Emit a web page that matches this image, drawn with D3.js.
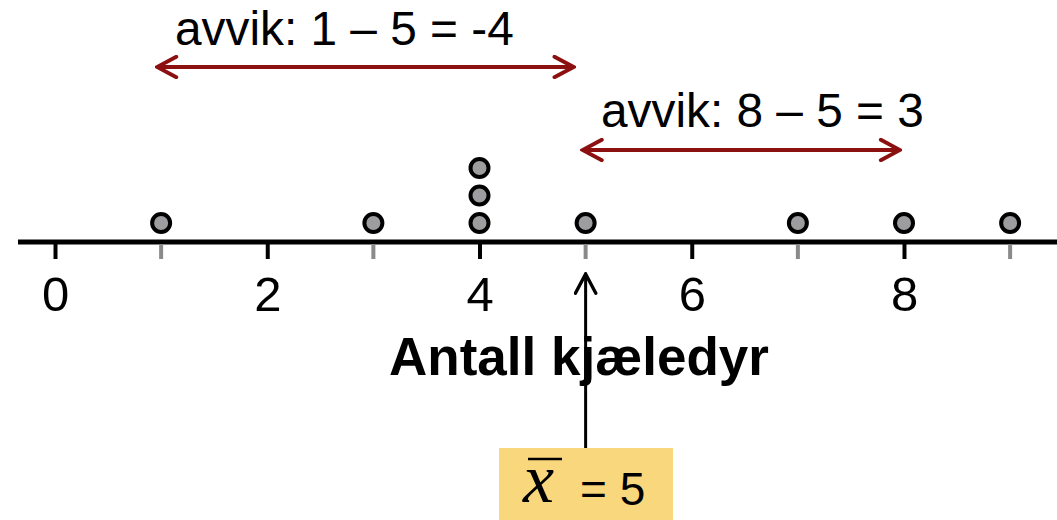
<!DOCTYPE html>
<html>
<head>
<meta charset="utf-8">
<script src="https://cdn.jsdelivr.net/npm/d3@7/dist/d3.min.js"></script>
<style>
body { margin: 0; background: #fff; }
text { font-family: Arial, "Liberation Sans", sans-serif; }
</style>
</head>
<body>
<svg id="chart" width="1057" height="520"></svg>
<script>
// antall kjæledyr per elev
var values = [1, 3, 4, 4, 4, 5, 7, 8, 9];
var tickLabels = [0, 2, 4, 6, 8];
var oddTicks = [1, 3, 5, 7, 9];
var axisTitle = "Antall kjæledyr";
var deviations = [
  {from: 1, to: 5, text: "avvik: 1 – 5 = -4"},
  {from: 5, to: 8, text: "avvik: 8 – 5 = 3"}
];

var mean = d3.mean(values);

var svg = d3.select("#chart");
var axisY = 242;
var red = "#8c1010";

var x = d3.scaleLinear().domain([0, 8]).range([55, 904]);

// main axis line
svg.append("line")
  .attr("x1", 18).attr("x2", 1057)
  .attr("y1", axisY).attr("y2", axisY)
  .attr("stroke", "#000").attr("stroke-width", 5);

// gray ticks at odd values
svg.selectAll(".oddtick").data(oddTicks).enter().append("line")
  .attr("x1", d => x(d)).attr("x2", d => x(d))
  .attr("y1", axisY + 2).attr("y2", axisY + 17)
  .attr("stroke", "#8a8a8a").attr("stroke-width", 4);

// black ticks + labels
var ax = svg.append("g")
  .attr("transform", "translate(0," + (axisY + 2) + ")")
  .call(d3.axisBottom(x).tickValues(tickLabels).tickSize(15).tickFormat(d3.format("d")));
ax.select(".domain").remove();
ax.selectAll(".tick line").attr("stroke", "#000").attr("stroke-width", 4);
ax.selectAll(".tick text")
  .attr("y", 67).attr("dy", 0)
  .attr("font-size", 49).attr("fill", "#000")
  .style("font-family", "Arial, 'Liberation Sans', sans-serif");

svg.append("text")
  .attr("x", 579).attr("y", 375)
  .attr("text-anchor", "middle")
  .attr("font-size", 53).attr("font-weight", "bold")
  .text(axisTitle);

// dots stacked
var counts = {};
var stacked = values.map(function(v) {
  counts[v] = (counts[v] || 0) + 1;
  return {v: v, k: counts[v] - 1};
});
svg.selectAll(".dot").data(stacked).enter().append("circle")
  .attr("cx", d => x(d.v))
  .attr("cy", d => axisY - 19 - d.k * 27.5)
  .attr("r", 9)
  .attr("fill", "#9d9da0")
  .attr("stroke", "#000").attr("stroke-width", 4);

// arrowheads
var defs = svg.append("defs");
function marker(id, color, w, sw) {
  defs.append("marker")
    .attr("id", id).attr("viewBox", "0 0 20 20")
    .attr("refX", 18).attr("refY", 10)
    .attr("markerWidth", w).attr("markerHeight", w)
    .attr("markerUnits", "userSpaceOnUse")
    .attr("orient", "auto-start-reverse")
    .append("path").attr("d", "M2,1.5 L18,10 L2,18.5")
    .attr("fill", "none").attr("stroke", color).attr("stroke-width", sw)
    .attr("stroke-linecap", "round").attr("stroke-linejoin", "miter");
}
marker("redArrow", red, 24, 3.2);
marker("blackArrow", "#000", 24, 2.8);

// deviation arrows
var devY = [67, 150];
var padL = [-4, -3];
var padR = [-12, -4];
var devTextX = [175, 601];
var devTextY = [45, 127];
deviations.forEach(function(d, i) {
  svg.append("line")
    .attr("x1", x(d.from) + padL[i]).attr("x2", x(d.to) + padR[i])
    .attr("y1", devY[i]).attr("y2", devY[i])
    .attr("stroke", red).attr("stroke-width", 4)
    .attr("marker-start", "url(#redArrow)")
    .attr("marker-end", "url(#redArrow)");
  svg.append("text")
    .attr("x", devTextX[i]).attr("y", devTextY[i])
    .attr("font-size", 47.8)
    .text(d.text);
});

// mean arrow and label box
svg.append("line")
  .attr("x1", x(mean)).attr("x2", x(mean))
  .attr("y1", 450).attr("y2", 274)
  .attr("stroke", "#000").attr("stroke-width", 3)
  .attr("marker-end", "url(#blackArrow)");

svg.append("rect")
  .attr("x", 499).attr("y", 448).attr("width", 174).attr("height", 72)
  .attr("fill", "#f8d77d");

svg.append("text")
  .attr("x", 523).attr("y", 502)
  .attr("font-size", 70).attr("font-style", "italic")
  .style("font-family", "'Times New Roman', 'Liberation Serif', serif")
  .text("x");
svg.append("line")
  .attr("x1", 528).attr("x2", 562)
  .attr("y1", 459).attr("y2", 459)
  .attr("stroke", "#000").attr("stroke-width", 2.5);
svg.append("text")
  .attr("x", 580).attr("y", 505)
  .attr("font-size", 46)
  .text("= " + mean);
</script>
</body>
</html>
